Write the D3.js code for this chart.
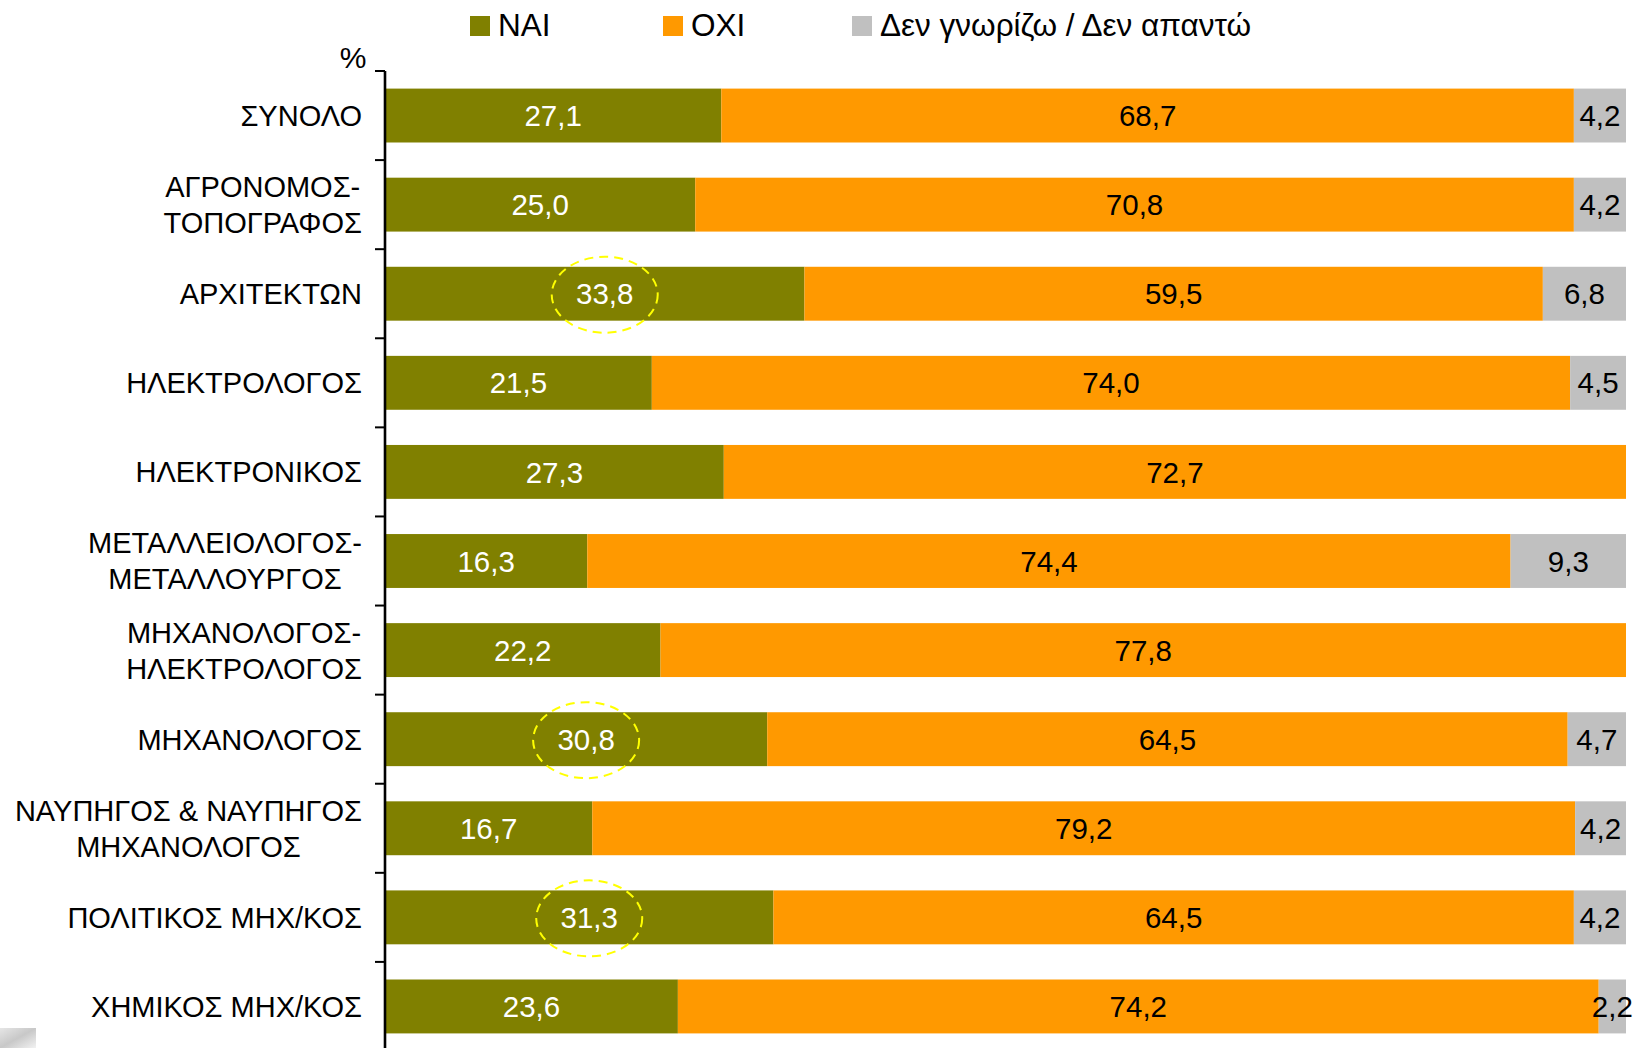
<!DOCTYPE html>
<html>
<head>
<meta charset="utf-8">
<script src="https://cdn.jsdelivr.net/npm/d3@7/dist/d3.min.js"></script>
<style>
  html, body { margin: 0; padding: 0; background: #fff; }
  svg { display: block; }
  text { font-family: "Liberation Sans", Arial, sans-serif; }
</style>
</head>
<body>
<svg id="chart" width="1634" height="1048"></svg>
<script>
const categories = [
  "ΣΥΝΟΛΟ",
  "ΑΓΡΟΝΟΜΟΣ-\nΤΟΠΟΓΡΑΦΟΣ",
  "ΑΡΧΙΤΕΚΤΩΝ",
  "ΗΛΕΚΤΡΟΛΟΓΟΣ",
  "ΗΛΕΚΤΡΟΝΙΚΟΣ",
  "ΜΕΤΑΛΛΕΙΟΛΟΓΟΣ-\nΜΕΤΑΛΛΟΥΡΓΟΣ",
  "ΜΗΧΑΝΟΛΟΓΟΣ-\nΗΛΕΚΤΡΟΛΟΓΟΣ",
  "ΜΗΧΑΝΟΛΟΓΟΣ",
  "ΝΑΥΠΗΓΟΣ & ΝΑΥΠΗΓΟΣ\nΜΗΧΑΝΟΛΟΓΟΣ",
  "ΠΟΛΙΤΙΚΟΣ ΜΗΧ/ΚΟΣ",
  "ΧΗΜΙΚΟΣ ΜΗΧ/ΚΟΣ"
];
const nai = [27.1, 25.0, 33.8, 21.5, 27.3, 16.3, 22.2, 30.8, 16.7, 31.3, 23.6];
const oxi = [68.7, 70.8, 59.5, 74.0, 72.7, 74.4, 77.8, 64.5, 79.2, 64.5, 74.2];
const dk  = [4.2, 4.2, 6.8, 4.5, null, 9.3, null, 4.7, 4.2, 4.2, 2.2];
const seriesNames = ["ΝΑΙ", "ΟΧΙ", "Δεν γνωρίζω / Δεν απαντώ"];
const seriesColors = ["#808000", "#FF9900", "#C0C0C0"];
const highlighted = ["ΑΡΧΙΤΕΚΤΩΝ", "ΜΗΧΑΝΟΛΟΓΟΣ", "ΠΟΛΙΤΙΚΟΣ ΜΗΧ/ΚΟΣ"];
const axisUnit = "%";

const fmt = v => v.toFixed(1).replace(".", ",");

const svg = d3.select("#chart");

const x = d3.scaleLinear().domain([0, 100]).range([385, 1626]);
const pad = 0.395;
const y = d3.scaleBand().domain(categories).range([71, 1051])
  .paddingInner(pad).paddingOuter(pad / 2);

const hlShift = 10;
const rows = categories.map((c, i) => {
  const vals = [nai[i], oxi[i], dk[i]];
  let acc = 0;
  const segs = vals.map((v, k) => {
    if (v == null) return null;
    const s = { cat: c, k, v, x0: acc, x1: acc + v };
    acc += v;
    return s;
  }).filter(d => d);
  return { cat: c, segs, hl: highlighted.includes(c) };
});

// bars
const g = svg.append("g");
rows.forEach(r => {
  g.selectAll(null).data(r.segs).enter().append("rect")
    .attr("x", d => x(d.x0))
    .attr("width", d => x(Math.min(d.x1, 100)) - x(d.x0))
    .attr("y", y(r.cat))
    .attr("height", y.bandwidth())
    .attr("fill", d => seriesColors[d.k]);
  g.selectAll(null).data(r.segs).enter().append("text")
    .attr("x", d => x((d.x0 + Math.min(d.x1, 100)) / 2) + (r.hl && d.k === 0 ? hlShift : 0))
    .attr("y", y(r.cat) + y.bandwidth() / 2)
    .attr("dy", "0.36em")
    .attr("text-anchor", "middle")
    .attr("font-size", 29.5)
    .attr("fill", d => d.k === 0 ? "#fff" : "#000")
    .text(d => fmt(d.v));
});

// highlight ellipses
highlighted.forEach(c => {
  const i = categories.indexOf(c);
  svg.append("ellipse")
    .attr("cx", x(nai[i] / 2) + hlShift)
    .attr("cy", y(c) + y.bandwidth() / 2 + 1)
    .attr("rx", 53).attr("ry", 38)
    .attr("fill", "none")
    .attr("stroke", "#FFFF00")
    .attr("stroke-width", 2)
    .attr("stroke-dasharray", "9,6");
});

// axis
const axX = x(0);
svg.append("line")
  .attr("x1", axX).attr("x2", axX)
  .attr("y1", y.range()[0]).attr("y2", 1048)
  .attr("stroke", "#000").attr("stroke-width", 2.6);
const step = y.step();
d3.range(categories.length + 1).forEach(i => {
  const yy = y.range()[0] + i * step;
  svg.append("line")
    .attr("x1", axX - 10).attr("x2", axX)
    .attr("y1", yy).attr("y2", yy)
    .attr("stroke", "#000").attr("stroke-width", 2);
});

// category labels
const labelRight = 362;
categories.forEach(c => {
  const lines = c.split("\n");
  const cy = y(c) + y.bandwidth() / 2;
  const lh = 36;
  const t = svg.append("text")
    .attr("font-size", 29)
    .attr("fill", "#000");
  lines.forEach((ln, j) => {
    t.append("tspan")
      .attr("y", cy + (j - (lines.length - 1) / 2) * lh)
      .attr("dy", "0.36em")
      .text(ln);
  });
  let w = 0;
  t.selectAll("tspan").each(function () { w = Math.max(w, this.getComputedTextLength()); });
  t.attr("text-anchor", "middle");
  t.selectAll("tspan").attr("x", labelRight - w / 2);
});

// unit label
svg.append("text")
  .attr("x", 353).attr("y", 68)
  .attr("text-anchor", "middle")
  .attr("font-size", 30)
  .text(axisUnit);

// legend
const legX = [470, 663, 852];
seriesNames.forEach((n, k) => {
  svg.append("rect")
    .attr("x", legX[k]).attr("y", 16)
    .attr("width", 20).attr("height", 20)
    .attr("fill", seriesColors[k]);
  svg.append("text")
    .attr("x", legX[k] + 28).attr("y", 36)
    .attr("font-size", 31.5)
    .text(n);
});

// small clipped picture fragment at bottom-left
const defs = svg.append("defs");
const grad = defs.append("linearGradient").attr("id", "frag")
  .attr("x1", "0").attr("y1", "0").attr("x2", "1").attr("y2", "1");
grad.append("stop").attr("offset", "0").attr("stop-color", "#e6e6e6");
grad.append("stop").attr("offset", "0.5").attr("stop-color", "#c8c8c8");
grad.append("stop").attr("offset", "1").attr("stop-color", "#f2f2f2");
svg.append("rect")
  .attr("x", 0).attr("y", 1028).attr("width", 36).attr("height", 20)
  .attr("fill", "url(#frag)");
</script>
</body>
</html>
